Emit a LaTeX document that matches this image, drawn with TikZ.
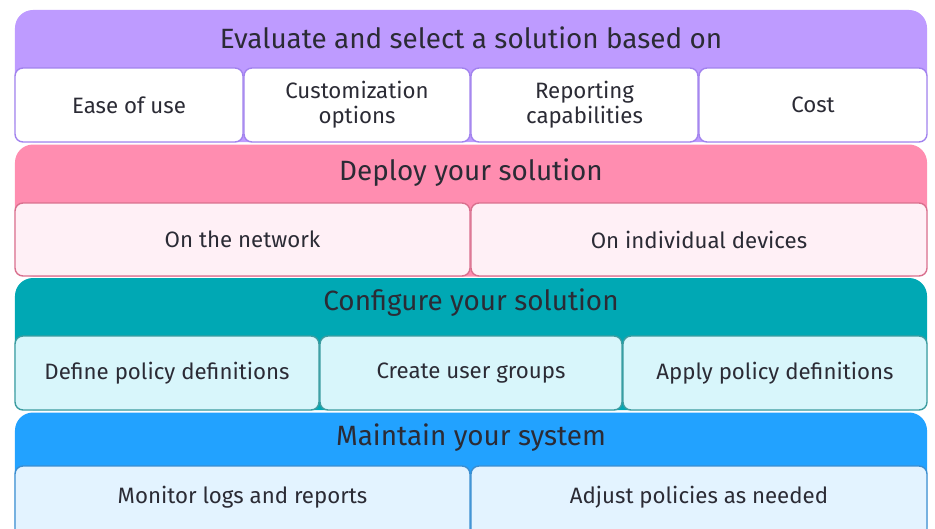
\documentclass[tikz,border=0pt]{standalone}
\usepackage{fontspec}
\setmainfont{Fira Sans}
\definecolor{evalfill}{HTML}{BE9BFF}
\definecolor{evalline}{HTML}{A283EE}
\definecolor{deployfill}{HTML}{FF8DB0}
\definecolor{deployline}{HTML}{D9708E}
\definecolor{deploysub}{HTML}{FFF0F6}
\definecolor{configfill}{HTML}{00A8B4}
\definecolor{configline}{HTML}{3C9CA0}
\definecolor{configsub}{HTML}{D8F6FB}
\definecolor{keepfill}{HTML}{22A2FF}
\definecolor{keepline}{HTML}{3C8ED0}
\definecolor{keepsub}{HTML}{E3F3FF}
\definecolor{txt}{HTML}{2B2B35}
\begin{document}
\begin{tikzpicture}[x=0.03cm, y=-0.03cm,
      band/.style = {rounded corners=0.54cm, minimum width=27.36cm,
                     minimum height=3.96cm, inner sep=0},
      head/.style = {text=txt, font=\fontsize{23.8}{28}\selectfont},
      item/.style = {draw, rounded corners=0.24cm, line width=1.2pt,
                     inner sep=0, align=center, text=txt,
                     font=\fontsize{19}{21.5}\selectfont}]
    \useasboundingbox (0,0) rectangle (935,528);
    \clip (0,0) rectangle (935,528);

    % bands
    \node[band, fill=evalfill] (evalband) at (471,76) {};
    \node[band, fill=deployfill] (deployband) at (471,210.5) {};
    \node[band, fill=configfill] (configband) at (471,344) {};
    \node[band, fill=keepfill] (keepband) at (471,478.5) {};

    % headings
    \node[head] (evalhead) at (471,38) {Evaluate and select a solution based on};
    \node[head] (deployhead) at (471,173) {Deploy your solution};
    \node[head] (confighead) at (471,303) {Configure your solution};
    \node[head] (keephead) at (471,438) {Maintain your system};

    % evaluate
    \node[item, draw=evalline, fill=white, minimum width=6.84cm, minimum height=2.22cm] (ease) at (129,105) {Ease of use};
    \node[item, draw=evalline, fill=white, minimum width=6.78cm, minimum height=2.22cm] (custom) at (357,105) {Customization\\options};
    \node[item, draw=evalline, fill=white, minimum width=6.81cm, minimum height=2.22cm] (report) at (584.5,105) {Reporting\\capabilities};
    \node[item, draw=evalline, fill=white, minimum width=6.84cm, minimum height=2.22cm] (cost) at (813,105) {Cost};

    % deploy
    \node[item, draw=deployline, fill=deploysub, minimum width=13.65cm, minimum height=2.19cm] (network) at (242.5,239.5) {On the network};
    \node[item, draw=deployline, fill=deploysub, minimum width=13.68cm, minimum height=2.19cm] (devices) at (699,239.5) {On individual devices};

    % configure
    \node[item, draw=configline, fill=configsub, minimum width=9.12cm, minimum height=2.22cm] (define) at (167,373) {Define policy definitions};
    \node[item, draw=configline, fill=configsub, minimum width=9.06cm, minimum height=2.22cm] (groups) at (471,373) {Create user groups};
    \node[item, draw=configline, fill=configsub, minimum width=9.12cm, minimum height=2.22cm] (apply) at (775,373) {Apply policy definitions};

    % maintain (cut off at the bottom)
    \node[item, draw=keepline, fill=keepsub, minimum width=13.65cm, minimum height=2.34cm, text depth=0.6cm] (monitor) at (242.5,505) {Monitor logs and reports};
    \node[item, draw=keepline, fill=keepsub, minimum width=13.68cm, minimum height=2.34cm, text depth=0.6cm] (adjust) at (699,505) {Adjust policies as needed};

  \end{tikzpicture}
\end{document}
